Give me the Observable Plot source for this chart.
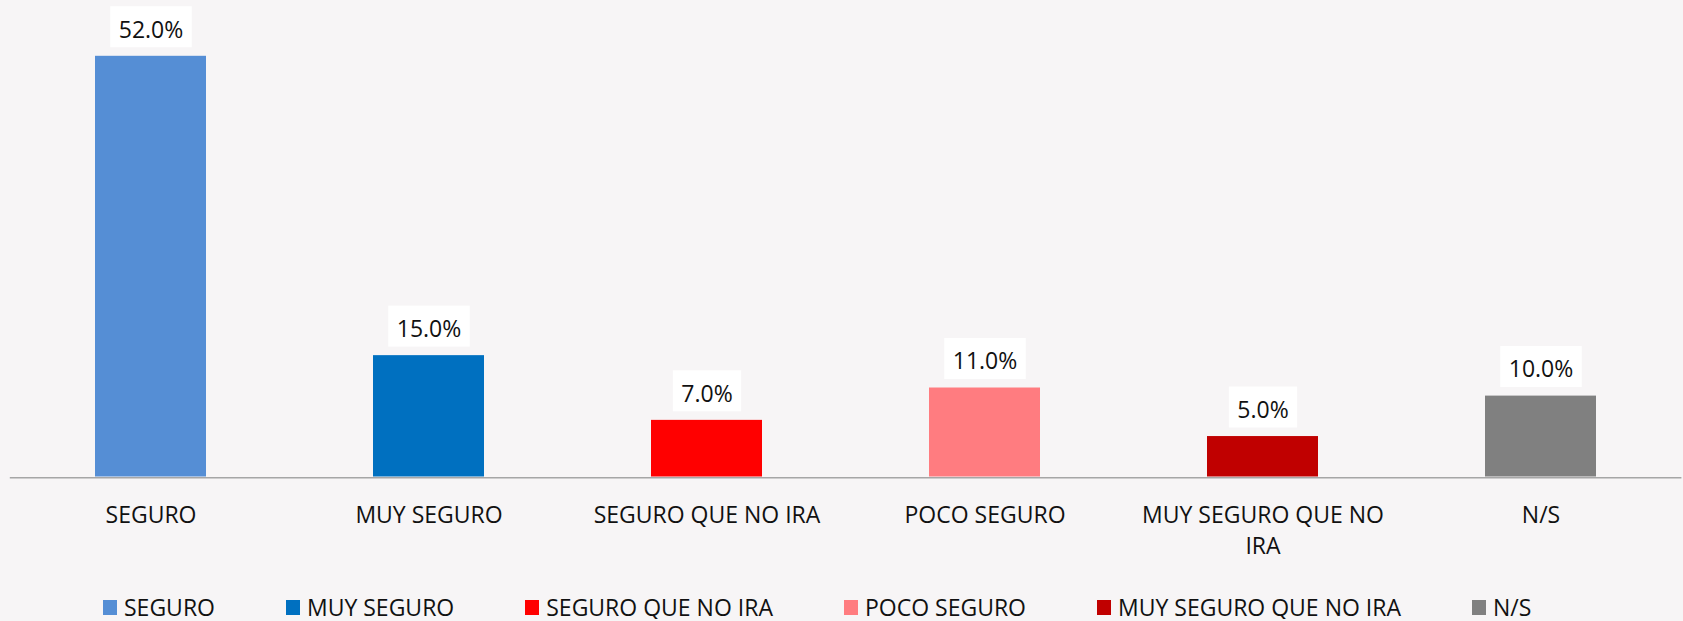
<!DOCTYPE html>
<html>
<head>
<meta charset="utf-8">
<script src="https://cdn.jsdelivr.net/npm/d3@7"></script>
<script src="https://cdn.jsdelivr.net/npm/@observablehq/plot@0.6"></script>
<style>
  html, body { margin: 0; padding: 0; background: #f7f5f6; overflow: hidden; }
  #chart svg { display: block; }
  #legend {
    display: flex; align-items: center; height: 23px; line-height: 23px; margin-top: 2.5px;
    padding-left: 103px; font-family: "Open Sans", sans-serif; font-size: 23px; color: #111;
  }
  #legend .item { display: flex; align-items: center; margin-right: 71px; white-space: nowrap; }
  #legend .sw { width: 14px; height: 15px; margin-right: 7px; display: inline-block; }
</style>
</head>
<body>
<div id="chart"></div>
<div id="legend"></div>
<script>
const categories = ["SEGURO", "MUY SEGURO", "SEGURO QUE NO IRA", "POCO SEGURO", "MUY SEGURO QUE NO IRA", "N/S"];
const tickLabels = ["SEGURO", "MUY SEGURO", "SEGURO QUE NO IRA", "POCO SEGURO", "MUY SEGURO QUE NO\nIRA", "N/S"];
const values = [52.0, 15.0, 7.0, 11.0, 5.0, 10.0];
const colors = ["#558ed5", "#0070c0", "#ff0000", "#ff7c80", "#c00000", "#808080"];

const data = categories.map((c, i) => ({category: c, value: values[i]}));
const fmt = v => d3.format(".1f")(v) + "%";
const tickMap = new Map(categories.map((c, i) => [c, tickLabels[i]]));

const W = 1683, H = 593;
const chart = Plot.plot({
  width: W,
  height: H,
  marginTop: 55.8,
  marginBottom: H - 476.5,
  marginLeft: 9.8,
  marginRight: 1.6,
  style: {background: "#f7f5f6", fontFamily: "'Open Sans', sans-serif", color: "#111"},
  x: {domain: categories, paddingInner: 0.6, paddingOuter: 0.3, axis: null, label: null},
  y: {domain: [0, 52], axis: null},
  color: {domain: categories, range: colors, type: "ordinal"},
  marks: [
    Plot.barY(data, {x: "category", y: "value", fill: "category"}),
    Plot.ruleY([0], {stroke: "#a6a6a6", strokeWidth: 1.6, dy: 0.8}),
    Plot.axisX({
      tickSize: 0, tickPadding: 23.6, fontSize: 23, lineHeight: 1.35, label: null,
      tickFormat: d => tickMap.get(d), fill: "#111"
    }),
    Plot.text(data, {
      x: "category", y: "value", text: d => fmt(d.value),
      dy: -26, fontSize: 23, fill: "#111", lineAnchor: "middle"
    })
  ]
});
document.getElementById("chart").appendChild(chart);

// white boxes behind value labels, sized from the rendered label text
const ns = "http://www.w3.org/2000/svg";
const svgRect = chart.getBoundingClientRect();
Array.from(chart.querySelectorAll('g[aria-label="text"]')).forEach(g => {
  const boxes = document.createElementNS(ns, "g");
  g.querySelectorAll("text").forEach(t => {
    const b = t.getBoundingClientRect();
    const cx = b.left - svgRect.left + b.width / 2;
    const cy = b.top - svgRect.top + b.height / 2;
    const r = document.createElementNS(ns, "rect");
    r.setAttribute("x", cx - b.width / 2 - 8.5);
    r.setAttribute("width", b.width + 17);
    r.setAttribute("y", cy - 22.4);
    r.setAttribute("height", 41);
    r.setAttribute("fill", "#ffffff");
    boxes.appendChild(r);
  });
  g.parentNode.insertBefore(boxes, g);
});

const legend = document.getElementById("legend");
categories.forEach((c, i) => {
  const item = document.createElement("div");
  item.className = "item";
  const sw = document.createElement("span");
  sw.className = "sw";
  sw.style.background = colors[i];
  const label = document.createElement("span");
  label.textContent = c;
  item.appendChild(sw);
  item.appendChild(label);
  legend.appendChild(item);
});
</script>
</body>
</html>
